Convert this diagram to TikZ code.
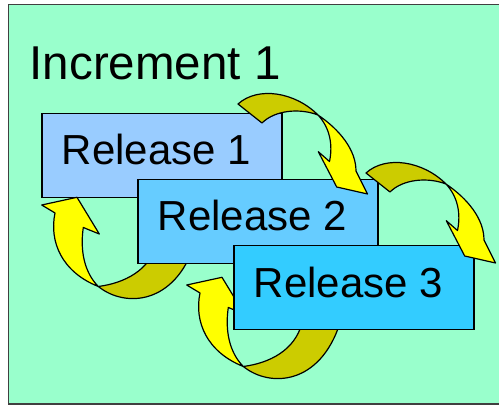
\documentclass[tikz,border=0pt]{standalone}
\usepackage{fontspec}
\setmainfont{Liberation Sans}
\definecolor{bgcol}{HTML}{99FFCC}
\definecolor{boxa}{HTML}{99CCFF}
\definecolor{boxb}{HTML}{66CCFF}
\definecolor{boxc}{HTML}{33CCFF}
\definecolor{arrfront}{HTML}{FFFF00}
\definecolor{arrback}{HTML}{CCCC00}
\tikzset{
  relbox/.style={draw=black, line width=1.5pt, minimum width=240pt, minimum height=84pt, anchor=north west, inner sep=0pt},
  reltext/.style={anchor=base west, inner sep=0pt, font=\fontsize{42}{50}\selectfont},
  arrline/.style={draw=black, line width=1.2pt, line join=round},
  toparr/.pic={
    \path[arrline, fill=arrback] (238,104) .. controls (258,86) and (295,92) .. (318,115)
      .. controls (300,108) and (275,110) .. (262,123) -- cycle;
    \path[arrline, fill=arrfront] (318,115) .. controls (340,130) and (356,150) .. (356,171)
      -- (367.5,194) -- (336.7,187) -- (318.3,151.7) -- (329.5,161.5)
      .. controls (333,145) and (330,128) .. (318,115) -- cycle;
  },
  botarr/.pic={
    \path[arrline, fill=arrback] (98.3,286.5) .. controls (125,308) and (175,305) .. (195,243)
      -- (157,243) .. controls (150,270) and (125,283) .. (98.3,286.5) -- cycle;
    \path[arrline, fill=arrfront] (98.3,286.5) .. controls (62,272) and (49,242) .. (55,213)
      -- (41.7,205) -- (77,197.3) -- (99.3,234) -- (83.3,227.5)
      .. controls (80,250) and (84,272) .. (98.3,286.5) -- cycle;
  }
}
\begin{document}
\begin{tikzpicture}[x=1pt,y=-1pt]
\useasboundingbox (0,0) rectangle (499,406);
\path[fill=bgcol, draw=black!75, line width=1.6pt] (8.5,4.7) rectangle (530,404);
\node[anchor=base west, inner sep=0pt, font=\fontsize{47.5}{56}\selectfont] (inc) at (29.5,80) {Increment 1};
% box 1
\node[relbox, fill=boxa] (r1) at (41,113) {};
\node[reltext] (t1) at (61.5,165) {Release 1};
% arrow 3 (behind box 2)
\pic at (0,0) {botarr};
% box 2
\node[relbox, fill=boxb] (r2) at (137,179) {};
\node[reltext] (t2) at (157.5,231) {Release 2};
% arrow 1
\pic at (0,0) {toparr};
% arrow 4 (behind box 3)
\pic at (145,80) {botarr};
% box 3
\node[relbox, fill=boxc] (r3) at (233,245) {};
\node[reltext] (t3) at (253.5,297.5) {Release 3};
% arrow 2
\pic at (128,69) {toparr};
\end{tikzpicture}
\end{document}
